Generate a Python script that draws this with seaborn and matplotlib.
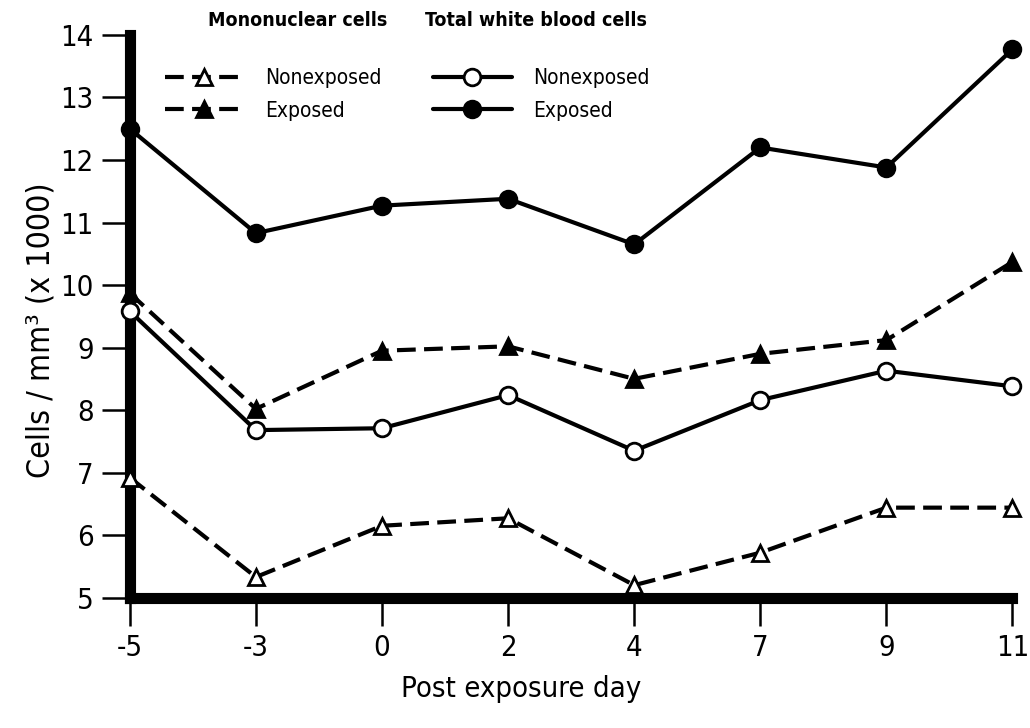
import seaborn as sns
import pandas as pd
import matplotlib.pyplot as plt
from matplotlib.lines import Line2D

days = ["-5", "-3", "0", "2", "4", "7", "9", "11"]
wbc_exposed = [12.5, 10.83, 11.27, 11.38, 10.65, 12.2, 11.88, 13.77]
wbc_nonexposed = [9.58, 7.68, 7.71, 8.24, 7.35, 8.16, 8.63, 8.38]
mono_exposed = [9.87, 8.02, 8.95, 9.02, 8.5, 8.9, 9.12, 10.37]
mono_nonexposed = [6.92, 5.33, 6.15, 6.27, 5.2, 5.72, 6.44, 6.44]

sns.set_style("ticks", {"axes.edgecolor": "black", "text.color": "black",
                        "xtick.color": "black", "ytick.color": "black",
                        "axes.labelcolor": "black"})
plt.rcParams["font.family"] = ["DejaVu Sans"]
plt.rcParams["font.stretch"] = "condensed"

fig = plt.figure(figsize=(10.3, 7.28), dpi=100)
ax = fig.add_axes([0.126, 0.179, 0.857, 0.773])

series = [
    (mono_nonexposed, "^", "white", True),
    (mono_exposed, "^", "black", True),
    (wbc_nonexposed, "o", "white", False),
    (wbc_exposed, "o", "black", False),
]
for vals, mk, fc, dashed in series:
    df = pd.DataFrame({"day": days, "cells": vals})
    sns.lineplot(data=df, x="day", y="cells", ax=ax, color="black", linewidth=3,
                 marker=mk, markersize=12, markerfacecolor=fc,
                 markeredgecolor="black", markeredgewidth=2, zorder=3,
                 clip_on=False)
    if dashed:
        ax.lines[-1].set_dashes((4.5, 2))

ax.set_xlim(0, 7)
ax.set_ylim(5, 14)
ax.set_yticks(range(5, 15))
sns.despine(ax=ax)
for s in ("left", "bottom"):
    ax.spines[s].set_linewidth(8)
    ax.spines[s].set_capstyle("projecting")
ax.tick_params(axis="both", direction="out", length=20, width=1.8,
               labelsize=21, pad=6)
ax.set_xlabel("Post exposure day", fontsize=21)
ax.set_ylabel("Cells / mm³ (x 1000)", fontsize=23)
ax.xaxis.set_label_coords(0.443, -0.137)
ax.yaxis.set_label_coords(-0.083, 0.476)

dash_kw = dict(color="black", linewidth=3, markersize=12, markeredgewidth=2,
               markeredgecolor="black", dashes=(4.5, 2))
mono_handles = [
    Line2D([], [], marker="^", markerfacecolor="white", **dash_kw),
    Line2D([], [], marker="^", markerfacecolor="black", **dash_kw),
]
solid_kw = dict(color="black", linewidth=3, markersize=12, markeredgewidth=2,
                markeredgecolor="black")
wbc_handles = [
    Line2D([], [], marker="o", markerfacecolor="white", **solid_kw),
    Line2D([], [], marker="o", markerfacecolor="black", **solid_kw),
]
leg_kw = dict(frameon=False, fontsize=15, handlelength=3.8,
              handletextpad=1.0, labelspacing=0.6, borderaxespad=0)
fig.legend(mono_handles, ["Nonexposed", "Exposed"], loc="upper left",
           bbox_to_anchor=(0.152, 0.918), **leg_kw)
fig.legend(wbc_handles, ["Nonexposed", "Exposed"], loc="upper left",
           bbox_to_anchor=(0.412, 0.918), **leg_kw)
fig.text(0.289, 0.972, "Mononuclear cells", fontsize=14, fontweight="bold",
         ha="center", va="center")
fig.text(0.52, 0.972, "Total white blood cells", fontsize=14,
         fontweight="bold", ha="center", va="center")

fig.savefig("out.png", dpi=100)
